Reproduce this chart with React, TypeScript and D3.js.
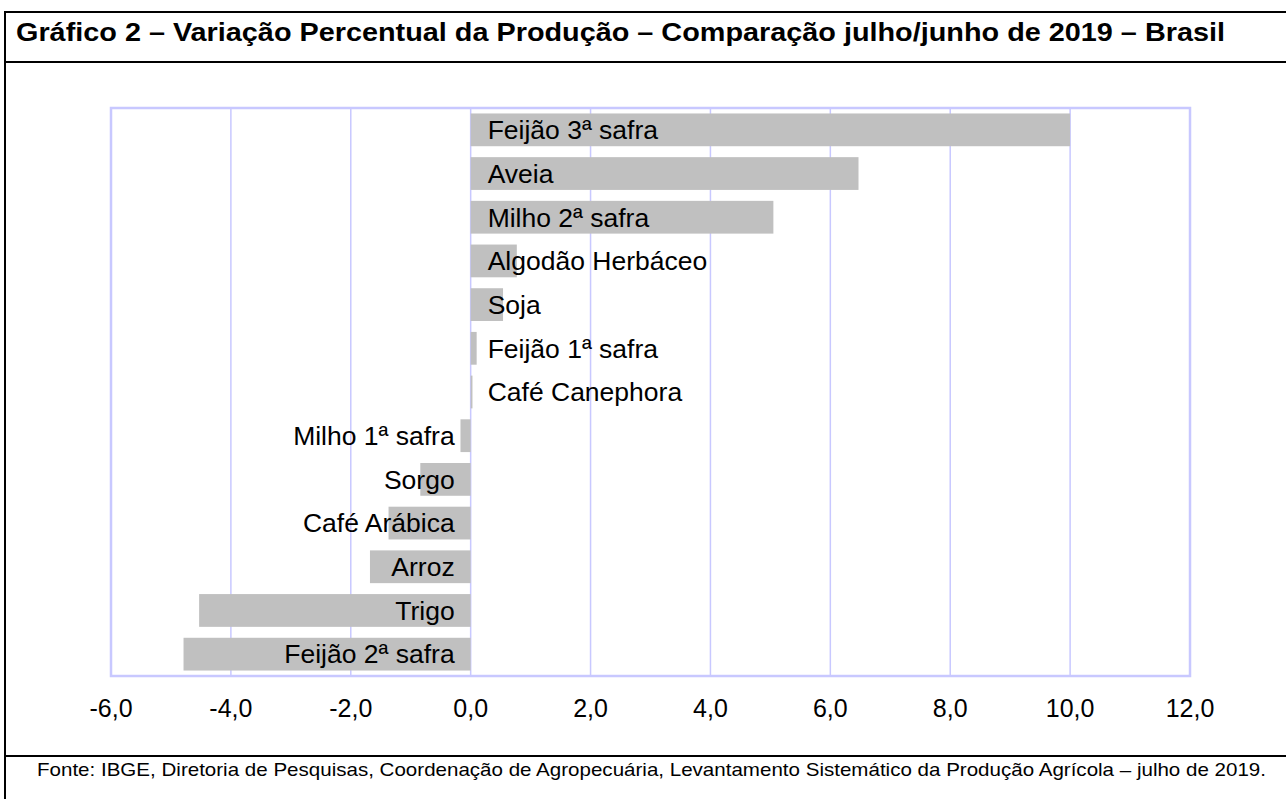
import React from "react";
import * as d3 from "d3";

const categories = [
  "Feijão 3ª safra",
  "Aveia",
  "Milho 2ª safra",
  "Algodão Herbáceo",
  "Soja",
  "Feijão 1ª safra",
  "Café Canephora",
  "Milho 1ª safra",
  "Sorgo",
  "Café Arábica",
  "Arroz",
  "Trigo",
  "Feijão 2ª safra",
];
const values = [10.0, 6.47, 5.05, 0.77, 0.54, 0.1, 0.03, -0.17, -0.84, -1.37, -1.68, -4.53, -4.79];
const xTicks = [-6, -4, -2, 0, 2, 4, 6, 8, 10, 12];
const titleText =
  "Gráfico 2 – Variação Percentual da Produção – Comparação julho/junho de 2019 – Brasil";
const sourceText =
  "Fonte: IBGE, Diretoria de Pesquisas, Coordenação de Agropecuária, Levantamento Sistemático da Produção Agrícola – julho de 2019.";

const W = 1286;
const H = 799;
const plot = { left: 111, right: 1190, top: 108, bottom: 676 };

const locale = d3.formatLocale({
  decimal: ",",
  thousands: ".",
  grouping: [3],
  currency: ["R$", ""],
  minus: "-",
});
const fmt = locale.format(".1f");

export default function App() {
  const x = d3.scaleLinear().domain([-6, 12]).range([plot.left, plot.right]);
  const y = d3
    .scaleBand<string>()
    .domain(categories)
    .range([plot.top, plot.bottom])
    .paddingInner(0.25)
    .paddingOuter(0.125);
  const font = "'Liberation Sans', Arial, Helvetica, sans-serif";
  const grid = "#c8c8ff";

  return (
    <svg
      width={W}
      height={H}
      style={{ position: "absolute", left: 0, top: 0, background: "#fff" }}
      fontFamily={font}
    >
      <rect x={0} y={0} width={W} height={H} fill="#fff" />
      {/* frame */}
      <line x1={4} x2={W} y1={12} y2={12} stroke="#000" strokeWidth={2} />
      <line x1={5} x2={5} y1={11} y2={H} stroke="#000" strokeWidth={2} />
      <line x1={4} x2={W} y1={62} y2={62} stroke="#000" strokeWidth={2} />
      <line x1={4} x2={W} y1={756} y2={756} stroke="#000" strokeWidth={2} />
      <text
        x={16}
        y={41}
        fontSize={25}
        fontWeight="bold"
        textLength={1209}
        lengthAdjust="spacingAndGlyphs"
        fill="#000"
      >
        {titleText}
      </text>
      <text
        x={37}
        y={776}
        fontSize={19}
        textLength={1229}
        lengthAdjust="spacingAndGlyphs"
        fill="#000"
      >
        {sourceText}
      </text>

      {/* grid */}
      {xTicks.map((t) => (
        <line
          key={"g" + t}
          x1={x(t)}
          x2={x(t)}
          y1={plot.top}
          y2={plot.bottom}
          stroke={grid}
          strokeWidth={1.5}
        />
      ))}
      <rect
        x={plot.left}
        y={plot.top}
        width={plot.right - plot.left}
        height={plot.bottom - plot.top}
        fill="none"
        stroke={grid}
        strokeWidth={2.5}
      />

      {/* bars */}
      {categories.map((c, i) => {
        const v = values[i];
        const x0 = x(Math.min(0, v));
        const x1 = x(Math.max(0, v));
        return (
          <rect
            key={"b" + c}
            x={x0}
            y={y(c)}
            width={Math.max(0.8, x1 - x0)}
            height={y.bandwidth()}
            fill="#c0c0c0"
          />
        );
      })}

      {/* labels */}
      {categories.map((c, i) => {
        const v = values[i];
        const cy = (y(c) as number) + y.bandwidth() / 2;
        const pos = v >= 0;
        return (
          <text
            key={"l" + c}
            x={pos ? x(0) + 17 : x(0) - 16}
            y={cy}
            dy="0.35em"
            textAnchor={pos ? "start" : "end"}
            fontSize={26.5}
            fill="#000"
          >
            {c}
          </text>
        );
      })}

      {/* x tick labels */}
      {xTicks.map((t) => (
        <text
          key={"t" + t}
          x={x(t)}
          y={717}
          textAnchor="middle"
          fontSize={25}
          fill="#000"
        >
          {fmt(t)}
        </text>
      ))}
    </svg>
  );
}
